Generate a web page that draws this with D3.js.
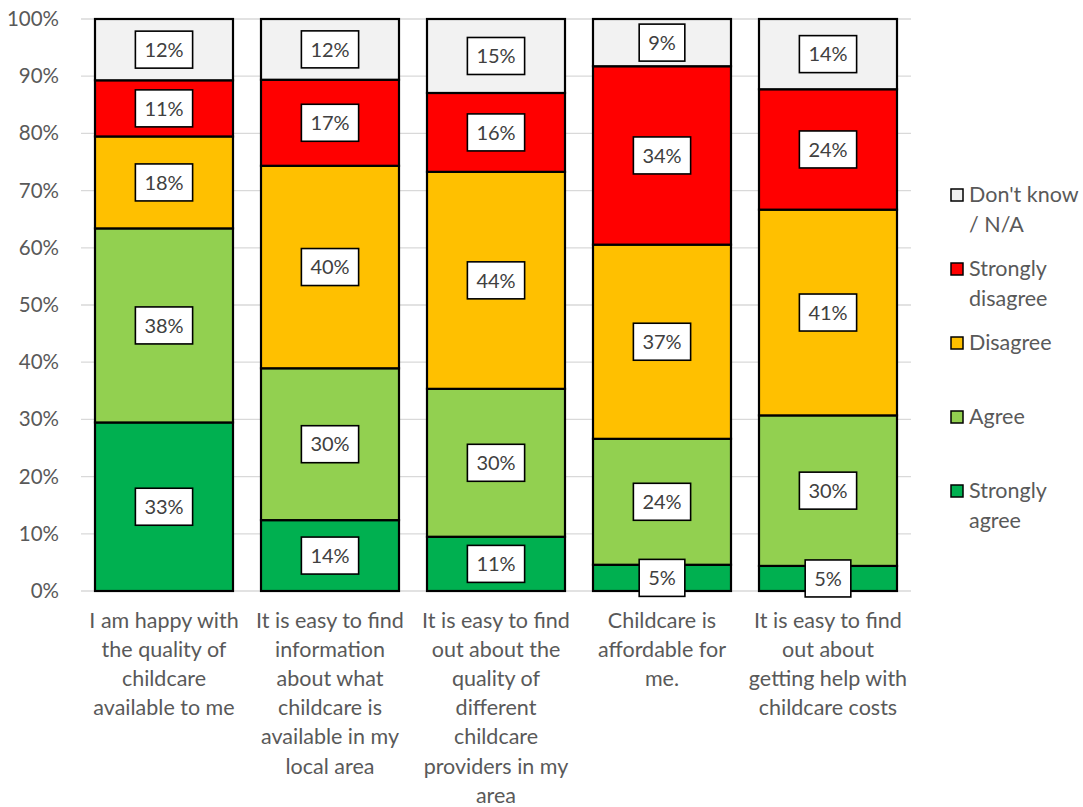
<!DOCTYPE html>
<html>
<head>
<meta charset="utf-8">
<script src="https://cdn.jsdelivr.net/npm/d3@7"></script>
<style>
  body { margin: 0; background: #fff; }
  svg { display: block; font-family: Lato, "Open Sans", sans-serif; }
</style>
</head>
<body>
<svg id="chart" width="1083" height="807"></svg>
<script>
// Survey statements (x categories), each wrapped into display lines
const categories = [
  "I am happy with the quality of childcare available to me",
  "It is easy to find information about what childcare is available in my local area",
  "It is easy to find out about the quality of different childcare providers in my area",
  "Childcare is affordable for me.",
  "It is easy to find out about getting help with childcare costs"
];
const categoryLines = [
  ["I am happy with", "the quality of", "childcare", "available to me"],
  ["It is easy to find", "information", "about what", "childcare is", "available in my", "local area"],
  ["It is easy to find", "out about the", "quality of", "different", "childcare", "providers in my", "area"],
  ["Childcare is", "affordable for", "me."],
  ["It is easy to find", "out about", "getting help with", "childcare costs"]
];

// Response series (bottom to top of each stack), values in percent
const seriesNames = ["Strongly agree", "Agree", "Disagree", "Strongly disagree", "Don't know / N/A"];
const stronglyAgree    = [33, 14, 11, 5, 5];
const agree            = [38, 30, 30, 24, 30];
const disagree         = [18, 40, 44, 37, 41];
const stronglyDisagree = [11, 17, 16, 34, 24];
const dontKnow         = [12, 12, 15, 9, 14];
const seriesColors = ["#00B050", "#92D050", "#FFC000", "#FF0000", "#F2F2F2"];

const yTicks = [0, 0.1, 0.2, 0.3, 0.4, 0.5, 0.6, 0.7, 0.8, 0.9, 1];

// Legend entries, top to bottom, with wrapped text
const legendLines = [
  ["Don't know", "/ N/A"],
  ["Strongly", "disagree"],
  ["Disagree"],
  ["Agree"],
  ["Strongly", "agree"]
];
const legendSeriesIndex = [4, 3, 2, 1, 0];

const seriesValues = [stronglyAgree, agree, disagree, stronglyDisagree, dontKnow];
const rows = categories.map((c, i) => {
  const r = { category: c };
  seriesNames.forEach((s, k) => { r[s] = seriesValues[k][i]; });
  return r;
});

const stacked = d3.stack()
  .keys(seriesNames)
  .offset(d3.stackOffsetExpand)(rows);

const svg = d3.select("#chart");
const plot = { left: 81, right: 911, top: 19, bottom: 591 };

const x = d3.scaleBand()
  .domain(categories)
  .range([plot.left, plot.right])
  .paddingInner(28 / 166)
  .paddingOuter(14 / 166);

const y = d3.scaleLinear().domain([0, 1]).range([plot.bottom, plot.top]);

// Horizontal gridlines
svg.append("g")
  .selectAll("line")
  .data(yTicks)
  .join("line")
  .attr("x1", plot.left).attr("x2", plot.right)
  .attr("y1", d => y(d)).attr("y2", d => y(d))
  .attr("stroke", "#D9D9D9")
  .attr("stroke-width", 1.3);

// Y axis tick labels
const yAxis = d3.axisLeft(y)
  .tickValues(yTicks)
  .tickFormat(d3.format(".0%"))
  .tickSize(0)
  .tickPadding(22);
const yAxisG = svg.append("g")
  .attr("transform", `translate(${plot.left},0)`)
  .call(yAxis);
yAxisG.select(".domain").remove();
yAxisG.selectAll("text")
  .attr("font-family", "Lato, 'Open Sans', sans-serif")
  .attr("font-size", 20.5)
  .attr("fill", "#595959");

// Stacked bars
const layers = svg.append("g")
  .selectAll("g")
  .data(stacked)
  .join("g")
  .attr("fill", (d, i) => seriesColors[i]);

layers.selectAll("rect")
  .data(d => d.map(p => ({ p, key: d.key })))
  .join("rect")
  .attr("x", d => x(d.p.data.category))
  .attr("width", x.bandwidth())
  .attr("y", d => y(d.p[1]))
  .attr("height", d => y(d.p[0]) - y(d.p[1]))
  .attr("stroke", "#000")
  .attr("stroke-width", 2.2);

// Value labels in white boxes
const labelG = svg.append("g");
stacked.forEach((layer) => {
  layer.forEach(p => {
    const value = p.data[layer.key];
    const cx = x(p.data.category) + x.bandwidth() / 2;
    const cy = (y(p[0]) + y(p[1])) / 2;
    const g = labelG.append("g").attr("transform", `translate(${cx},${cy})`);
    const rect = g.append("rect")
      .attr("fill", "#fff")
      .attr("stroke", "#000")
      .attr("stroke-width", 1.6);
    const t = g.append("text")
      .attr("text-anchor", "middle")
      .attr("dy", "0.36em")
      .attr("font-size", 20)
      .attr("fill", "#404040")
      .text(value + "%");
    const w = t.node().getComputedTextLength();
    const bw = w + 18, bh = 37;
    rect.attr("x", -bw / 2).attr("y", -bh / 2).attr("width", bw).attr("height", bh);
  });
});

// Category labels (wrapped)
const xLab = svg.append("g");
categories.forEach((c, i) => {
  const cx = x(c) + x.bandwidth() / 2;
  const t = xLab.append("text")
    .attr("text-anchor", "middle")
    .attr("font-size", 21.5)
    .attr("fill", "#595959");
  categoryLines[i].forEach((line, j) => {
    t.append("tspan")
      .attr("x", cx)
      .attr("y", 628 + j * 29.1)
      .text(line);
  });
});

// Legend
const legend = svg.append("g");
const legendY = [195, 269, 343, 417, 491];
legendLines.forEach((lines, i) => {
  const sIdx = legendSeriesIndex[i];
  legend.append("rect")
    .attr("x", 951).attr("y", legendY[i] - 6)
    .attr("width", 12).attr("height", 12)
    .attr("fill", seriesColors[sIdx])
    .attr("stroke", "#000")
    .attr("stroke-width", 1.5);
  const t = legend.append("text")
    .attr("font-size", 21.5)
    .attr("fill", "#595959");
  lines.forEach((line, j) => {
    t.append("tspan")
      .attr("x", 969)
      .attr("y", legendY[i] + 7 + j * 29.5)
      .text(line);
  });
});
</script>
</body>
</html>
